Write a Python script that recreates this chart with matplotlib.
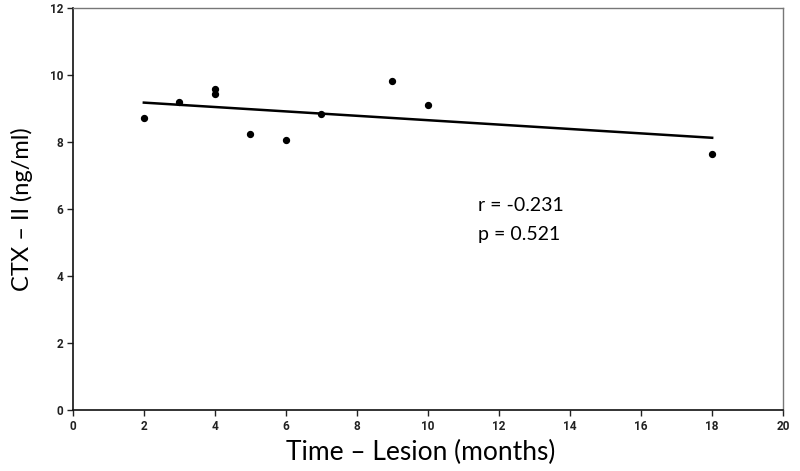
import numpy as np
import matplotlib
matplotlib.use("Agg")
import matplotlib.pyplot as plt

# Données
months = [2, 3, 4, 4, 5, 6, 7, 9, 10, 18]
ctx_ii = [8.71, 9.18, 9.58, 9.42, 8.24, 8.05, 8.85, 9.83, 9.10, 7.65]
x_ticks = [0, 2, 4, 6, 8, 10, 12, 14, 16, 18, 20]
y_ticks = [0, 2, 4, 6, 8, 10, 12]
r_text = "r = -0.231"
p_text = "p = 0.521"

fig = plt.figure(figsize=(8, 4.71), dpi=100)
ax = fig.add_axes([0.091, 0.1295, 0.888, 0.8535])

ax.scatter(months, ctx_ii, s=18, color="black", zorder=3)

# droite de régression
slope, intercept = np.polyfit(months, ctx_ii, 1)
xs = np.array([min(months), max(months)])
ax.plot(xs, slope * xs + intercept, color="black", lw=1.8)

ax.set_xlim(0, 20)
ax.set_ylim(0, 12)
ax.set_xticks(x_ticks)
ax.set_yticks(y_ticks)
ax.tick_params(direction="out", length=4, width=1, labelsize=8.5, colors="#222222", pad=3)
for lab in ax.get_xticklabels() + ax.get_yticklabels():
    lab.set_family("Roboto")
    lab.set_fontweight("bold")

for side in ["left", "bottom"]:
    ax.spines[side].set_color("#111111")
    ax.spines[side].set_linewidth(1.2)
for side in ["top", "right"]:
    ax.spines[side].set_color("#777777")
    ax.spines[side].set_linewidth(1.0)

ax.set_xlabel("Time – Lesion (months)", fontsize=19, family="Lato", labelpad=5)
ax.set_ylabel("CTX – II (ng/ml)", fontsize=17, family="Lato", labelpad=12)
ax.xaxis.set_label_coords(0.49, -0.075)

ax.text(11.4, 6.1, r_text, fontsize=14, family="Lato", va="center")
ax.text(11.4, 5.25, p_text, fontsize=14, family="Lato", va="center")

fig.savefig("out.png", dpi=100)
